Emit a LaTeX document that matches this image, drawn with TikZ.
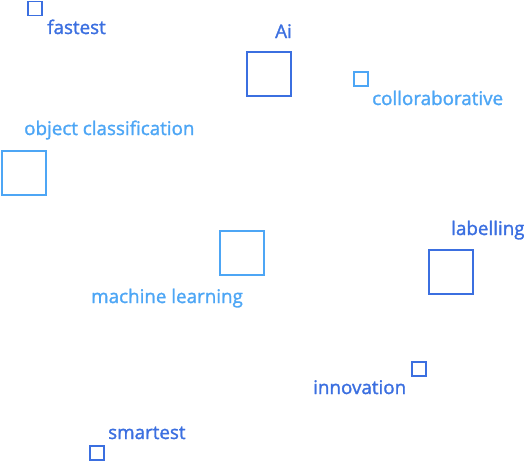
\documentclass[tikz,border=0pt]{standalone}
\usepackage{fontspec}
\setmainfont{Open Sans}[FakeBold=1.5]
\definecolor{deepblue}{HTML}{3B6FE0}
\definecolor{skyblue}{HTML}{4DA6F5}
\begin{document}
\begin{tikzpicture}[x=1pt,y=-1pt,
  bigbox/.style={draw=#1, line width=2pt, minimum size=44pt, inner sep=0pt, anchor=north west},
  smallbox/.style={draw=#1, line width=1.5pt, minimum size=14pt, inner sep=0pt, anchor=north west},
  tag/.style={anchor=base west, inner sep=0pt, text=#1, font=\fontsize{18.8}{21}\selectfont}]
\useasboundingbox (0,0) rectangle (524,460);
% squares
\node[smallbox=deepblue] (fastbox) at (27,1) {};
\node[bigbox=deepblue] (aibox) at (246,51) {};
\node[smallbox=skyblue] (collbox) at (353,71) {};
\node[bigbox=skyblue] (objbox) at (1,150) {};
\node[bigbox=skyblue] (mlbox) at (219,230) {};
\node[bigbox=deepblue] (labbox) at (428,249) {};
\node[smallbox=deepblue] (innbox) at (411,361) {};
\node[smallbox=deepblue] (smartbox) at (89,445) {};
% labels
\node[tag=deepblue] (fasttxt) at (47,34) {fastest};
\node[tag=deepblue] (aitxt) at (275,38) {Ai};
\node[tag=skyblue] (colltxt) at (372,105) {colloraborative};
\node[tag=skyblue] (objtxt) at (24,135) {object classification};
\node[tag=skyblue] (mltxt) at (91,303) {machine learning};
\node[tag=deepblue] (labtxt) at (451,235) {labelling};
\node[tag=deepblue] (inntxt) at (313,394) {innovation};
\node[tag=deepblue] (smarttxt) at (108,439) {smartest};
\end{tikzpicture}
\end{document}
